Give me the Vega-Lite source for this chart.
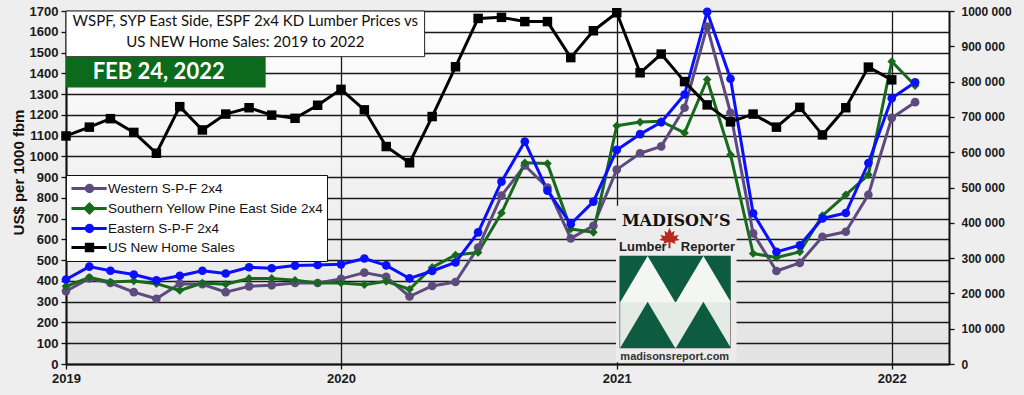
{
  "$schema": "https://vega.github.io/schema/vega-lite/v6.json",
  "width": 883,
  "height": 353,
  "autosize": {"type": "none"},
  "padding": {"left": 66, "top": 11, "right": 75, "bottom": 31},
  "background": "#eeeeee",
  "config": {
    "view": {"stroke": null, "fill": {"gradient": "linear", "x1": 0, "y1": 0, "x2": 0, "y2": 1, "stops": [{"offset": 0, "color": "#ffffff"}, {"offset": 1, "color": "#e3e3e3"}]}},
    "axis": {"labelFont": "Liberation Sans", "labelFontWeight": "bold", "labelColor": "#1a1a1a", "domainColor": "#111111", "tickColor": "#111111", "gridColor": "#1a1a1a", "labelOverlap": false}
  },
  "data": {
    "values": [
      {"month": "2019-01", "wspf": 351, "syp": 374, "espf": 407, "sales": 646000},
      {"month": "2019-02", "wspf": 412, "syp": 417, "espf": 469, "sales": 671000},
      {"month": "2019-03", "wspf": 390, "syp": 395, "espf": 449, "sales": 695000},
      {"month": "2019-04", "wspf": 346, "syp": 400, "espf": 431, "sales": 656000},
      {"month": "2019-05", "wspf": 314, "syp": 387, "espf": 403, "sales": 597000},
      {"month": "2019-06", "wspf": 387, "syp": 354, "espf": 425, "sales": 729000},
      {"month": "2019-07", "wspf": 384, "syp": 390, "espf": 449, "sales": 663000},
      {"month": "2019-08", "wspf": 346, "syp": 384, "espf": 436, "sales": 708000},
      {"month": "2019-09", "wspf": 374, "syp": 412, "espf": 466, "sales": 726000},
      {"month": "2019-10", "wspf": 379, "syp": 412, "espf": 461, "sales": 705000},
      {"month": "2019-11", "wspf": 390, "syp": 403, "espf": 474, "sales": 696000},
      {"month": "2019-12", "wspf": 390, "syp": 390, "espf": 477, "sales": 733000},
      {"month": "2020-01", "wspf": 410, "syp": 390, "espf": 480, "sales": 778000},
      {"month": "2020-02", "wspf": 440, "syp": 382, "espf": 508, "sales": 720000},
      {"month": "2020-03", "wspf": 420, "syp": 398, "espf": 475, "sales": 616000},
      {"month": "2020-04", "wspf": 325, "syp": 360, "espf": 412, "sales": 570000},
      {"month": "2020-05", "wspf": 376, "syp": 465, "espf": 448, "sales": 701000},
      {"month": "2020-06", "wspf": 395, "syp": 525, "espf": 489, "sales": 842000},
      {"month": "2020-07", "wspf": 561, "syp": 537, "espf": 634, "sales": 979000},
      {"month": "2020-08", "wspf": 811, "syp": 727, "espf": 878, "sales": 982000},
      {"month": "2020-09", "wspf": 956, "syp": 969, "espf": 1071, "sales": 970000},
      {"month": "2020-10", "wspf": 850, "syp": 965, "espf": 835, "sales": 970000},
      {"month": "2020-11", "wspf": 605, "syp": 650, "espf": 674, "sales": 868000},
      {"month": "2020-12", "wspf": 666, "syp": 634, "espf": 782, "sales": 944000},
      {"month": "2021-01", "wspf": 936, "syp": 1147, "espf": 1031, "sales": 995000},
      {"month": "2021-02", "wspf": 1015, "syp": 1165, "espf": 1107, "sales": 825000},
      {"month": "2021-03", "wspf": 1048, "syp": 1169, "espf": 1164, "sales": 878000},
      {"month": "2021-04", "wspf": 1234, "syp": 1113, "espf": 1298, "sales": 800000},
      {"month": "2021-05", "wspf": 1625, "syp": 1370, "espf": 1696, "sales": 734000},
      {"month": "2021-06", "wspf": 1210, "syp": 1008, "espf": 1374, "sales": 686000},
      {"month": "2021-07", "wspf": 629, "syp": 532, "espf": 726, "sales": 708000},
      {"month": "2021-08", "wspf": 448, "syp": 513, "espf": 540, "sales": 671000},
      {"month": "2021-09", "wspf": 487, "syp": 540, "espf": 572, "sales": 727000},
      {"month": "2021-10", "wspf": 613, "syp": 715, "espf": 701, "sales": 649000},
      {"month": "2021-11", "wspf": 637, "syp": 815, "espf": 727, "sales": 726000},
      {"month": "2021-12", "wspf": 815, "syp": 911, "espf": 968, "sales": 841000},
      {"month": "2022-01", "wspf": 1185, "syp": 1457, "espf": 1280, "sales": 805000},
      {"month": "2022-02", "wspf": 1261, "syp": 1341, "espf": 1357, "sales": null}
    ],
    "format": {"parse": {"month": "date:'%Y-%m'"}}
  },
  "layer": [
    {
      "layer": [
        {
          "transform": [{"fold": ["wspf", "syp", "espf"], "as": ["series", "price"]}],
          "mark": {"type": "line", "strokeWidth": 3, "strokeJoin": "round"},
          "encoding": {
            "x": {
              "field": "month", "type": "temporal",
              "scale": {"domain": [{"year": 2019, "month": "jan", "date": 1}, {"year": 2022, "month": "mar", "date": 18}]},
              "axis": {
                "title": null, "format": "%Y", "labelFlush": false, "tickCount": 4,
                "values": [{"year": 2019, "month": "jan", "date": 1}, {"year": 2020, "month": "jan", "date": 1}, {"year": 2021, "month": "jan", "date": 1}, {"year": 2022, "month": "jan", "date": 1}],
                "grid": true, "gridWidth": 1.3, "tickSize": 5, "tickWidth": 1.3, "domainWidth": 2, "labelFontSize": 13, "labelPadding": 3
              }
            },
            "y": {
              "field": "price", "type": "quantitative",
              "scale": {"domain": [0, 1700], "nice": false},
              "axis": {
                "title": "US$ per 1000 fbm", "format": "d", "labelOverlap": false, "tickCount": 18,
                "values": [0, 100, 200, 300, 400, 500, 600, 700, 800, 900, 1000, 1100, 1200, 1300, 1400, 1500, 1600, 1700],
                "grid": true, "gridWidth": 1.3, "tickSize": 5, "tickWidth": 1.3, "domainWidth": 2, "labelFontSize": 13, "labelPadding": 3,
                "titleFont": "Liberation Sans", "titleFontSize": 15, "titleFontWeight": "bold", "titleColor": "#111111",
                "titleAngle": -90, "titleX": -48, "titleY": 161, "titleBaseline": "middle", "titleAlign": "center"
              }
            },
            "color": {
              "field": "series", "type": "nominal",
              "scale": {"domain": ["wspf", "syp", "espf", "sales"], "range": ["#5d4b7e", "#17691c", "#0a10ff", "#000000"]},
              "legend": {
                "orient": "none", "legendX": 0, "legendY": 164, "title": null,
                "fillColor": "white", "strokeColor": "#111111", "padding": 4,
                "labelFont": "Liberation Sans", "labelFontSize": 13.5, "labelColor": "#111111", "labelLimit": 320,
                "labelExpr": "datum.value == 'wspf' ? 'Western S-P-F 2x4' : datum.value == 'syp' ? 'Southern Yellow Pine East Side 2x4' : datum.value == 'espf' ? 'Eastern  S-P-F 2x4' : 'US New Home Sales'",
                "symbolSize": 256, "labelOffset": 19, "rowPadding": 0,
                "encode": {
                  "symbols": {
                    "update": {
                      "shape": {"signal": "datum.value == 'sales' ? 'M-1,0H3.4M0.85,-0.42H1.65V0.42H0.85Z' : datum.value == 'syp' ? 'M-1,0H3.4M1.25,-0.55L1.8,0L1.25,0.55L0.7,0Z' : 'M-1,0H3.4M0.85,0A0.4,0.4 0 1,1 1.65,0A0.4,0.4 0 1,1 0.85,0Z'"},
                      "fill": {"scale": "color", "field": "value"},
                      "stroke": {"scale": "color", "field": "value"},
                      "strokeWidth": {"value": 3},
                      "opacity": {"value": 1}
                    }
                  }
                }
              }
            }
          }
        },
        {
          "transform": [{"fold": ["wspf", "syp", "espf"], "as": ["series", "price"]}],
          "mark": {"type": "point", "filled": true, "opacity": 1, "size": 75},
          "encoding": {
            "x": {"field": "month", "type": "temporal"},
            "y": {"field": "price", "type": "quantitative"},
            "color": {"field": "series", "type": "nominal"},
            "shape": {"field": "series", "type": "nominal", "scale": {"domain": ["wspf", "syp", "espf"], "range": ["circle", "diamond", "circle"]}, "legend": null}
          }
        },
        {
          "data": {"values": [{}]},
          "mark": {"type": "rect", "fill": "white", "stroke": "#222222", "strokeWidth": 1},
          "encoding": {
            "x": {"datum": {"year": 2019, "month": "jan", "date": 1}, "type": "temporal"},
            "x2": {"datum": {"year": 2020, "month": "apr", "date": 21}},
            "y": {"datum": 1480, "type": "quantitative"},
            "y2": {"datum": 1700}
          }
        },
        {
          "data": {"values": [{}]},
          "mark": {"type": "rect", "fill": "#0b6a1c"},
          "encoding": {
            "x": {"datum": {"year": 2019, "month": "jan", "date": 1}, "type": "temporal"},
            "x2": {"datum": {"year": 2019, "month": "sep", "date": 23}},
            "y": {"datum": 1332, "type": "quantitative"},
            "y2": {"datum": 1478}
          }
        },
        {
          "data": {"values": [{}]},
          "mark": {"type": "text", "text": ["WSPF, SYP East Side, ESPF 2x4 KD Lumber Prices vs", "US NEW Home Sales: 2019 to 2022"], "font": "Lato", "fontSize": 15, "lineHeight": 21, "baseline": "top", "align": "center", "color": "#111111"},
          "encoding": {
            "x": {"datum": {"year": 2019, "month": "aug", "date": 27}, "type": "temporal"},
            "y": {"datum": 1684, "type": "quantitative"}
          }
        },
        {
          "data": {"values": [{}]},
          "mark": {"type": "text", "text": "FEB 24, 2022", "font": "Lato", "fontWeight": "bold", "fontSize": 22, "baseline": "middle", "align": "center", "color": "white"},
          "encoding": {
            "x": {"datum": {"year": 2019, "month": "may", "date": 4}, "type": "temporal"},
            "y": {"datum": 1406, "type": "quantitative"}
          }
        },
        {
          "data": {"values": [{}]},
          "mark": {"type": "rect", "fill": "#ececec"},
          "encoding": {
            "x": {"datum": {"year": 2020, "month": "dec", "date": 31}, "type": "temporal"},
            "x2": {"datum": {"year": 2021, "month": "jun", "date": 9}},
            "y": {"datum": 8, "type": "quantitative"},
            "y2": {"datum": 762}
          }
        },
        {
          "data": {"values": [{}]},
          "mark": {"type": "text", "text": "MADISON\u2019S", "font": "DejaVu Serif", "fontWeight": "bold", "fontSize": 16, "baseline": "middle", "align": "center", "color": "#111111"},
          "encoding": {
            "x": {"datum": {"year": 2021, "month": "mar", "date": 21}, "type": "temporal"},
            "y": {"datum": 689, "type": "quantitative"}
          }
        },
        {
          "data": {"values": [{}]},
          "mark": {"type": "point", "shape": "M0,-1L0.2,-0.5L0.5,-0.7L0.4,-0.2L0.9,-0.3L0.7,0L1,0.2L0.5,0.3L0.6,0.6L0.1,0.4L0.1,1L-0.1,1L-0.1,0.4L-0.6,0.6L-0.5,0.3L-1,0.2L-0.7,0L-0.9,-0.3L-0.4,-0.2L-0.5,-0.7L-0.2,-0.5Z", "size": 420, "filled": true, "color": "#b52a1f", "opacity": 1},
          "encoding": {
            "x": {"datum": {"year": 2021, "month": "mar", "date": 12}, "type": "temporal"},
            "y": {"datum": 607, "type": "quantitative"}
          }
        },
        {
          "data": {"values": [{}]},
          "mark": {"type": "text", "text": "Lumber", "font": "Liberation Sans", "fontWeight": "bold", "fontSize": 13, "baseline": "middle", "align": "left", "color": "#222222"},
          "encoding": {
            "x": {"datum": {"year": 2021, "month": "jan", "date": 4}, "type": "temporal"},
            "y": {"datum": 565, "type": "quantitative"}
          }
        },
        {
          "data": {"values": [{}]},
          "mark": {"type": "text", "text": "Reporter", "font": "Liberation Sans", "fontWeight": "bold", "fontSize": 13, "baseline": "middle", "align": "right", "color": "#222222"},
          "encoding": {
            "x": {"datum": {"year": 2021, "month": "jun", "date": 7}, "type": "temporal"},
            "y": {"datum": 565, "type": "quantitative"}
          }
        },
        {
          "data": {"values": [{}]},
          "mark": {"type": "rect", "fill": "#e4ebe6", "stroke": "#8a8a8a", "strokeWidth": 1},
          "encoding": {
            "x": {"datum": {"year": 2021, "month": "jan", "date": 5}, "type": "temporal"},
            "x2": {"datum": {"year": 2021, "month": "jun", "date": 1}},
            "y": {"datum": 77, "type": "quantitative"},
            "y2": {"datum": 520}
          }
        },
        {
          "data": {"values": [{}]},
          "mark": {"type": "rect", "fill": "#0d5b40"},
          "encoding": {
            "x": {"datum": {"year": 2021, "month": "jan", "date": 5}, "type": "temporal"},
            "x2": {"datum": {"year": 2021, "month": "jun", "date": 1}},
            "y": {"datum": 299, "type": "quantitative"},
            "y2": {"datum": 520}
          }
        },
        {
          "data": {"values": [{}]},
          "mark": {"type": "point", "shape": "M0,-0.84L1,0.84L-1,0.84Z", "size": 3025, "filled": true, "color": "#f4f6f4", "opacity": 1},
          "encoding": {
            "x": {"datum": {"year": 2021, "month": "feb", "date": 11}, "type": "temporal"},
            "y": {"datum": 409, "type": "quantitative"}
          }
        },
        {
          "data": {"values": [{}]},
          "mark": {"type": "point", "shape": "M0,-0.84L1,0.84L-1,0.84Z", "size": 3025, "filled": true, "color": "#f4f6f4", "opacity": 1},
          "encoding": {
            "x": {"datum": {"year": 2021, "month": "apr", "date": 26}, "type": "temporal"},
            "y": {"datum": 409, "type": "quantitative"}
          }
        },
        {
          "data": {"values": [{}]},
          "mark": {"type": "point", "shape": "M0,-0.84L1,0.84L-1,0.84Z", "size": 3025, "filled": true, "color": "#0d5b40", "opacity": 1},
          "encoding": {
            "x": {"datum": {"year": 2021, "month": "feb", "date": 11}, "type": "temporal"},
            "y": {"datum": 188, "type": "quantitative"}
          }
        },
        {
          "data": {"values": [{}]},
          "mark": {"type": "point", "shape": "M0,-0.84L1,0.84L-1,0.84Z", "size": 3025, "filled": true, "color": "#0d5b40", "opacity": 1},
          "encoding": {
            "x": {"datum": {"year": 2021, "month": "apr", "date": 26}, "type": "temporal"},
            "y": {"datum": 188, "type": "quantitative"}
          }
        },
        {
          "data": {"values": [{}]},
          "mark": {"type": "text", "text": "madisonsreport.com", "font": "Liberation Sans", "fontWeight": "bold", "fontSize": 11, "baseline": "middle", "align": "center", "color": "#333333"},
          "encoding": {
            "x": {"datum": {"year": 2021, "month": "mar", "date": 19}, "type": "temporal"},
            "y": {"datum": 34, "type": "quantitative"}
          }
        }
      ]
    },
    {
      "transform": [{"filter": "isValid(datum.sales)"}],
      "layer": [
        {
          "mark": {"type": "line", "strokeWidth": 3, "strokeJoin": "round"},
          "encoding": {
            "x": {"field": "month", "type": "temporal"},
            "y": {
              "field": "sales", "type": "quantitative",
              "scale": {"domain": [0, 1000000], "nice": false},
              "axis": {
                "orient": "right", "title": null, "labelOverlap": false, "tickCount": 11,
                "values": [0, 100000, 200000, 300000, 400000, 500000, 600000, 700000, 800000, 900000, 1000000],
                "labelExpr": "datum.value == 0 ? '0' : datum.value >= 1000000 ? '1000 000' : format(datum.value / 1000, 'd') + ' 000'",
                "grid": false, "tickSize": 5, "tickWidth": 1.3, "domainWidth": 2, "labelFontSize": 12, "labelPadding": 7
              }
            },
            "color": {"datum": "sales", "type": "nominal"}
          }
        },
        {
          "mark": {"type": "point", "shape": "square", "filled": true, "opacity": 1, "size": 90},
          "encoding": {
            "x": {"field": "month", "type": "temporal"},
            "y": {"field": "sales", "type": "quantitative"},
            "color": {"datum": "sales", "type": "nominal"}
          }
        }
      ]
    }
  ],
  "resolve": {"scale": {"y": "independent"}}
}
